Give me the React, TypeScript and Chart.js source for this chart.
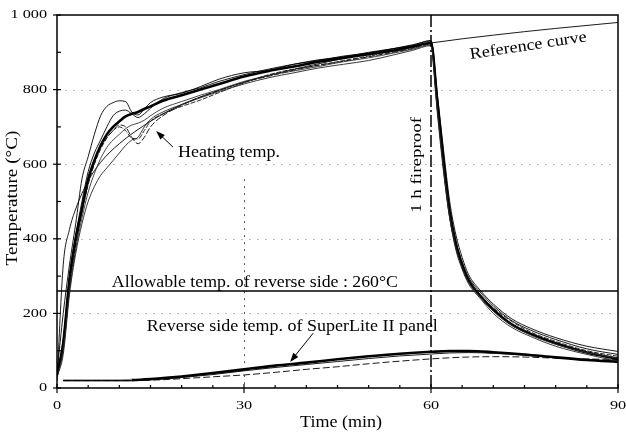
import React, { useEffect, useRef } from "react";
import { Chart, registerables } from "chart.js";

Chart.register(...registerables);

const SERIF = '"Liberation Serif", "DejaVu Serif", "Times New Roman", serif';

// ---- axis ticks ----
const X_TICKS = [0, 30, 60, 90];
const X_TICK_LABELS = ["0", "30", "60", "90"];
const Y_TICKS = [0, 200, 400, 600, 800, 1000];
const Y_TICK_LABELS = ["0", "200", "400", "600", "800", "1 000"];

// ---- heating temperatures (furnace side), min / °C ----
const HEAT_TIME = [0, 1, 2, 3, 4, 5, 6, 7, 8, 9, 10, 11, 12, 13, 14, 15, 17, 20, 23, 26, 30, 34, 38, 42, 46, 50, 54, 57, 60, 61, 62, 63, 64, 65, 66, 68, 70, 73, 76, 80, 85, 90];
const HEAT_BOLD = [35, 120, 290, 400, 480, 560, 610, 650, 680, 700, 715, 728, 735, 740, 748, 755, 770, 785, 800, 815, 835, 850, 862, 875, 885, 895, 905, 915, 925, 770, 610, 470, 385, 330, 290, 245, 210, 170, 145, 120, 95, 78];
const HEAT_A = [40, 200, 330, 440, 560, 620, 680, 730, 755, 765, 770, 768, 740, 732, 748, 765, 780, 790, 808, 828, 845, 852, 868, 880, 888, 900, 910, 918, 932, 790, 640, 500, 410, 350, 305, 260, 225, 185, 160, 135, 112, 98];
const HEAT_B = [30, 90, 250, 360, 440, 500, 540, 570, 590, 610, 630, 650, 665, 672, 700, 720, 740, 760, 778, 795, 815, 832, 845, 858, 868, 878, 893, 905, 918, 740, 580, 455, 370, 318, 280, 238, 200, 162, 138, 112, 90, 72];
const HEAT_C = [32, 110, 270, 380, 470, 545, 600, 640, 670, 690, 700, 690, 670, 668, 690, 715, 735, 755, 772, 792, 818, 840, 855, 865, 878, 890, 902, 912, 922, 760, 600, 465, 380, 325, 288, 248, 215, 178, 150, 125, 100, 85];
const HEAT_D = [35, 130, 300, 410, 500, 580, 630, 665, 700, 730, 742, 745, 735, 725, 735, 750, 775, 792, 805, 822, 840, 855, 868, 878, 890, 898, 910, 920, 930, 780, 620, 485, 395, 338, 298, 255, 220, 180, 155, 130, 105, 90];
const HEAT_E = [30, 100, 260, 370, 455, 525, 575, 615, 645, 665, 680, 695, 705, 710, 718, 730, 750, 768, 785, 800, 822, 838, 850, 862, 875, 885, 898, 908, 920, 750, 590, 460, 375, 322, 284, 242, 206, 168, 142, 117, 95, 80];
const HEAT_F = [33, 115, 280, 390, 475, 550, 605, 645, 672, 690, 705, 700, 672, 655, 672, 700, 730, 758, 780, 798, 820, 836, 852, 866, 876, 888, 900, 910, 923, 765, 605, 468, 382, 328, 288, 246, 210, 172, 146, 120, 97, 80];

// ---- reference (standard fire) curve ----
const REF_TIME = [0, 1, 2, 3, 5, 7, 10, 15, 20, 25, 30, 40, 50, 60, 70, 80, 90];
const REF_TEMP = [20, 330, 425, 480, 555, 605, 655, 715, 760, 792, 820, 862, 897, 925, 946, 964, 980];

// ---- reverse side temperatures ----
const REV_TIME = [1, 5, 10, 12, 15, 18, 20, 25, 30, 35, 40, 45, 50, 55, 60, 63, 66, 70, 75, 80, 85, 90];
const REV_BOLD = [20, 20, 20, 21, 24, 28, 31, 40, 50, 60, 68, 77, 85, 92, 97, 99, 99, 96, 90, 82, 75, 70];
const REV_THIN = [20, 20, 20, 20, 22, 25, 28, 36, 46, 55, 63, 71, 79, 86, 91, 94, 95, 93, 88, 82, 76, 72];
const REV_DASHED = [20, 20, 20, 20, 21, 23, 25, 30, 35, 42, 50, 57, 65, 72, 78, 81, 83, 84, 83, 80, 78, 76];

const ALLOWABLE_TEMP = 260;
const FIREPROOF_TIME = 60;
const X_MIN = 0, X_MAX = 90, Y_MIN = 0, Y_MAX = 1000;

const pts = (xs: number[], ys: number[]) => xs.map((x, i) => ({ x, y: ys[i] }));

function fitText(ctx: CanvasRenderingContext2D, text: string, cx: number, cy: number, width: number, size: number, angle = 0) {
  ctx.save();
  ctx.font = `${size}px ${SERIF}`;
  const w = ctx.measureText(text).width;
  ctx.translate(cx, cy);
  ctx.rotate(angle);
  ctx.scale(width / w, 1);
  ctx.textAlign = "center";
  ctx.textBaseline = "middle";
  ctx.fillStyle = "#000";
  ctx.fillText(text, 0, 0);
  ctx.restore();
}

function scaledText(ctx: CanvasRenderingContext2D, text: string, x: number, y: number, size: number, sx: number, align: "left" | "right" | "center") {
  ctx.save();
  ctx.font = `${size}px ${SERIF}`;
  const w = ctx.measureText(text).width * sx;
  let left = x;
  if (align === "right") left = x - w;
  if (align === "center") left = x - w / 2;
  ctx.translate(left, y);
  ctx.scale(sx, 1);
  ctx.textAlign = "left";
  ctx.textBaseline = "middle";
  ctx.fillStyle = "#000";
  ctx.fillText(text, 0, 0);
  ctx.restore();
}

function arrow(ctx: CanvasRenderingContext2D, x1: number, y1: number, x2: number, y2: number) {
  const a = Math.atan2(y2 - y1, x2 - x1);
  const L = 9, W = 3.2;
  ctx.save();
  ctx.strokeStyle = "#000";
  ctx.fillStyle = "#000";
  ctx.lineWidth = 1;
  ctx.setLineDash([]);
  ctx.beginPath();
  ctx.moveTo(x1, y1);
  ctx.lineTo(x2 - Math.cos(a) * L * 0.7, y2 - Math.sin(a) * L * 0.7);
  ctx.stroke();
  ctx.beginPath();
  ctx.moveTo(x2, y2);
  ctx.lineTo(x2 - Math.cos(a) * L - Math.sin(a) * W, y2 - Math.sin(a) * L + Math.cos(a) * W);
  ctx.lineTo(x2 - Math.cos(a) * L + Math.sin(a) * W, y2 - Math.sin(a) * L - Math.cos(a) * W);
  ctx.closePath();
  ctx.fill();
  ctx.restore();
}

const decoPlugin = {
  id: "deco",
  beforeDatasetsDraw(chart: any) {
    const { ctx, chartArea: a, scales } = chart;
    const x = scales.x, y = scales.y;
    ctx.save();
    ctx.lineWidth = 1;
    ctx.strokeStyle = "#bdbdbd";
    ctx.setLineDash([2, 6]);
    for (const v of [200, 400, 600, 800]) {
      const py = Math.round(y.getPixelForValue(v)) + 0.5;
      ctx.beginPath();
      ctx.moveTo(a.left, py);
      ctx.lineTo(a.right, py);
      ctx.stroke();
    }
    ctx.strokeStyle = "#555";
    ctx.setLineDash([2, 5]);
    const px30 = Math.round(x.getPixelForValue(30)) + 0.5;
    ctx.beginPath();
    ctx.moveTo(px30, y.getPixelForValue(560));
    ctx.lineTo(px30, a.bottom);
    ctx.stroke();
    ctx.restore();
  },
  afterDatasetsDraw(chart: any) {
    const { ctx, chartArea: a, scales } = chart;
    const x = scales.x, y = scales.y;
    ctx.save();
    // dash-dot line at 1 h
    const p60 = x.getPixelForValue(FIREPROOF_TIME);
    ctx.strokeStyle = "#000";
    ctx.lineWidth = 1.5;
    ctx.setLineDash([12, 3, 2, 3]);
    ctx.beginPath();
    ctx.moveTo(p60, a.top);
    ctx.lineTo(p60, a.bottom);
    ctx.stroke();
    ctx.setLineDash([]);

    // frame
    ctx.lineWidth = 1.5;
    ctx.strokeRect(a.left, a.top, a.right - a.left, a.bottom - a.top);

    // ticks
    ctx.lineWidth = 1.2;
    for (let v = 0; v <= 90; v += 5) {
      const px = x.getPixelForValue(v);
      const major = X_TICKS.includes(v);
      ctx.beginPath();
      ctx.moveTo(px, major ? a.bottom + 5 : a.bottom);
      ctx.lineTo(px, a.bottom - (major ? 4 : 3));
      ctx.stroke();
    }
    for (let v = 0; v <= 1000; v += 100) {
      const py = y.getPixelForValue(v);
      const major = Y_TICKS.includes(v);
      ctx.beginPath();
      ctx.moveTo(major ? a.left - 4 : a.left, py);
      ctx.lineTo(a.left + 4, py);
      ctx.stroke();
    }

    // tick labels
    Y_TICKS.forEach((v, i) => {
      scaledText(ctx, Y_TICK_LABELS[i], a.left - 10, y.getPixelForValue(v), 13, 1.25, "right");
    });
    X_TICKS.forEach((v, i) => {
      scaledText(ctx, X_TICK_LABELS[i], x.getPixelForValue(v), a.bottom + 18, 13, 1.25, "center");
    });

    // axis titles
    fitText(ctx, "Time (min)", 341, 423, 82, 17);
    fitText(ctx, "Temperature (°C)", 13, 198, 135, 17, -Math.PI / 2);

    // annotations (anchored to data coordinates)
    fitText(ctx, "Reference curve", x.getPixelForValue(75.6), y.getPixelForValue(917), 118, 16, -0.15);
    fitText(ctx, "Heating temp.", x.getPixelForValue(27.6), y.getPixelForValue(630), 102, 17);
    arrow(ctx, x.getPixelForValue(18.6), y.getPixelForValue(646), x.getPixelForValue(15.9), y.getPixelForValue(689));
    const al = x.getPixelForValue(8.8), ar = x.getPixelForValue(54.7);
    fitText(ctx, "Allowable temp. of reverse side : 260°C", (al + ar) / 2, y.getPixelForValue(284), ar - al, 17);
    const rl = x.getPixelForValue(14.4), rr = x.getPixelForValue(61.1);
    fitText(ctx, "Reverse side temp. of SuperLite II panel", (rl + rr) / 2, y.getPixelForValue(166), rr - rl, 17);
    arrow(ctx, x.getPixelForValue(41.1), y.getPixelForValue(147), x.getPixelForValue(37.4), y.getPixelForValue(70));
    fitText(ctx, "1 h fireproof", x.getPixelForValue(57.8), y.getPixelForValue(598), 96, 15, -Math.PI / 2);
    ctx.restore();
  },
};

const thin = (data: any[], color = "#000", dash: number[] = []) => ({
  data,
  borderColor: color,
  borderWidth: 0.9,
  borderDash: dash,
  pointRadius: 0,
  cubicInterpolationMode: "monotone" as const,
  fill: false,
});

export default function App() {
  const ref = useRef<HTMLCanvasElement | null>(null);
  useEffect(() => {
    if (!ref.current) return;
    const chart = new Chart(ref.current, {
      type: "line",
      data: {
        datasets: [
          thin(pts(HEAT_A, HEAT_A).map((p, i) => ({ x: HEAT_TIME[i], y: p.y }))),
          thin(pts(HEAT_TIME, HEAT_B), "#222"),
          thin(pts(HEAT_TIME, HEAT_C), "#111", [5, 1.5]),
          thin(pts(HEAT_TIME, HEAT_D)),
          thin(pts(HEAT_TIME, HEAT_E), "#333"),
          thin(pts(HEAT_TIME, HEAT_F), "#000", [6, 2]),
          thin(pts(REF_TIME, REF_TEMP)),
          {
            data: pts(HEAT_TIME, HEAT_BOLD),
            borderColor: "#000",
            borderWidth: 2.6,
            pointRadius: 0,
            cubicInterpolationMode: "monotone" as const,
            fill: false,
          },
          {
            data: pts([X_MIN, X_MAX], [ALLOWABLE_TEMP, ALLOWABLE_TEMP]),
            borderColor: "#000",
            borderWidth: 1.4,
            pointRadius: 0,
            fill: false,
          },
          thin(pts(REV_TIME, REV_DASHED), "#000", [7, 3]),
          thin(pts(REV_TIME, REV_THIN)),
          {
            data: pts(REV_TIME, REV_BOLD),
            borderColor: "#000",
            borderWidth: 2.6,
            pointRadius: 0,
            cubicInterpolationMode: "monotone" as const,
            fill: false,
            segment: {
              borderColor: (c: any) => (c.p0.parsed.x < 12 ? "#8a8a8a" : "#000"),
            },
          },
        ],
      },
      options: {
        responsive: false,
        animation: false,
        events: [],
        layout: { padding: { left: 57, right: 8, top: 15, bottom: 48 } },
        plugins: { legend: { display: false }, tooltip: { enabled: false } },
        scales: {
          x: { type: "linear", min: X_MIN, max: X_MAX, display: false },
          y: { type: "linear", min: Y_MIN, max: Y_MAX, display: false },
        },
      },
      plugins: [decoPlugin],
    });
    return () => chart.destroy();
  }, []);
  return (
    <div style={{ position: "fixed", left: 0, top: 0, width: 626, height: 436, background: "#fff" }}>
      <canvas ref={ref} width={626} height={436} style={{ display: "block" }} />
    </div>
  );
}
